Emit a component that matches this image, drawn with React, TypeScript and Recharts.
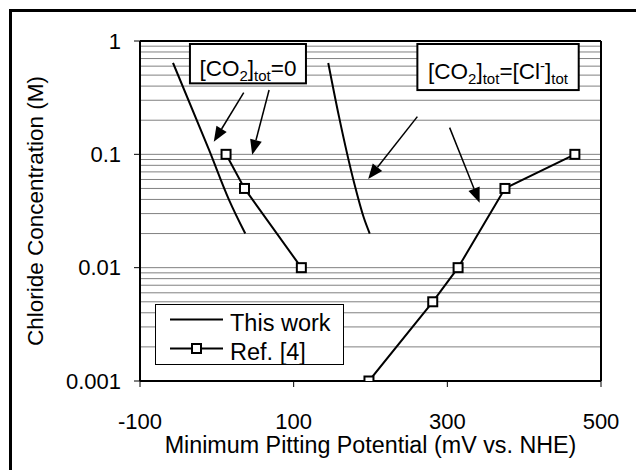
import React from 'react';
import { LineChart, Line, XAxis, YAxis, Legend, ReferenceLine } from 'recharts';

const FONT = '"Liberation Sans", Arial, sans-serif';

// axis ticks
const potentialTicks = [-100, 100, 300, 500];
const concTicks = [0.001, 0.01, 0.1, 1];
// horizontal log grid (minor + major)
const gridConc = [
  0.002, 0.003, 0.004, 0.005, 0.006, 0.007, 0.008, 0.009, 0.01,
  0.02, 0.03, 0.04, 0.05, 0.06, 0.07, 0.08, 0.09, 0.1,
  0.2, 0.3, 0.4, 0.5, 0.6, 0.7, 0.8, 0.9,
];

// This work: [CO2]tot = 0 curve
const thisWorkCO2Zero = [
  { x: -57, y: 0.64 },
  { x: -10, y: 0.109 },
  { x: 16, y: 0.0395 },
  { x: 37, y: 0.02 },
];
// This work: [CO2]tot = [Cl-]tot curve
const thisWorkCO2Cl = [
  { x: 145, y: 0.64 },
  { x: 159, y: 0.215 },
  { x: 179, y: 0.055 },
  { x: 191, y: 0.028 },
  { x: 199, y: 0.02 },
];
// Ref. [4] points
const refCO2Zero = [
  { x: 12, y: 0.1 },
  { x: 36, y: 0.05 },
  { x: 110, y: 0.01 },
];
const refCO2Cl = [
  { x: 198, y: 0.001 },
  { x: 281, y: 0.005 },
  { x: 314, y: 0.01 },
  { x: 375, y: 0.05 },
  { x: 466, y: 0.1 },
];

// annotation arrows: tail -> tip, in data units
const arrowTails = [
  { x: 35, y: 0.35 },
  { x: 68, y: 0.37 },
  { x: 261, y: 0.215 },
  { x: 303, y: 0.172 },
];
const arrowTips = [
  { x: -4, y: 0.129 },
  { x: 46, y: 0.099 },
  { x: 197, y: 0.0605 },
  { x: 342, y: 0.0374 },
];

// annotation boxes: corners in data units
const co2ZeroBox = [{ x: -35, y: 0.941 }, { x: 116, y: 0.423 }];
const co2ClBox = [{ x: 261, y: 0.941 }, { x: 471, y: 0.369 }];

const Arrow = (p: any) => {
  const { x1, y1, x2, y2 } = p;
  const dx = x2 - x1;
  const dy = y2 - y1;
  const len = Math.sqrt(dx * dx + dy * dy) || 1;
  const ux = dx / len;
  const uy = dy / len;
  const hl = 15;
  const hw = 6;
  const bx = x2 - ux * hl;
  const by = y2 - uy * hl;
  return (
    <g>
      <line x1={x1} y1={y1} x2={bx} y2={by} stroke="#000" strokeWidth={1.5} />
      <polygon
        points={`${x2},${y2} ${bx - uy * hw},${by + ux * hw} ${bx + uy * hw},${by - ux * hw}`}
        fill="#000"
      />
    </g>
  );
};

const Square = (p: any) => {
  const { cx, cy, index } = p;
  if (cx == null || cy == null) return <g key={index} />;
  return <rect key={index} x={cx - 4.5} y={cy - 4.5} width={9} height={9} fill="#fff" stroke="#000" strokeWidth={2} />;
};

const boxShape = (content: React.ReactNode) => (p: any) => {
  const { x1, y1, x2, y2 } = p;
  const x = Math.min(x1, x2);
  const y = Math.min(y1, y2);
  const w = Math.abs(x2 - x1);
  const h = Math.abs(y2 - y1);
  return (
    <g>
      <rect x={x} y={y} width={w} height={h} fill="#fff" stroke="#000" strokeWidth={2} />
      <text x={x + w / 2} y={y + h / 2 + 12} textAnchor="middle" fontSize={22.5} fontFamily={FONT} fill="#000">
        {content}
      </text>
    </g>
  );
};

const co2ZeroShape = boxShape(
  <>
    <tspan>[CO</tspan>
    <tspan dy={5} fontSize={15}>2</tspan>
    <tspan dy={-5}>]</tspan>
    <tspan dy={5} fontSize={15}>tot</tspan>
    <tspan dy={-5}>=0</tspan>
  </>
);

const co2ClShape = boxShape(
  <>
    <tspan>[CO</tspan>
    <tspan dy={5} fontSize={15}>2</tspan>
    <tspan dy={-5}>]</tspan>
    <tspan dy={5} fontSize={15}>tot</tspan>
    <tspan dy={-5}>=[Cl</tspan>
    <tspan dy={-8} fontSize={15}>-</tspan>
    <tspan dy={8}>]</tspan>
    <tspan dy={5} fontSize={15}>tot</tspan>
  </>
);

const LegendBox = () => (
  <svg width={189} height={61} style={{ display: 'block' }}>
    <rect x={0.5} y={0.5} width={188} height={60} fill="#fff" stroke="#000" strokeWidth={1} />
    <line x1={15} y1={15.5} x2={68} y2={15.5} stroke="#000" strokeWidth={2} />
    <text x={75} y={27} fontSize={23.5} fontFamily={FONT} fill="#000">This work</text>
    <line x1={15} y1={44.5} x2={68} y2={44.5} stroke="#000" strokeWidth={2} />
    <rect x={37} y={40} width={9} height={9} fill="#fff" stroke="#000" strokeWidth={2} />
    <text x={75} y={56} fontSize={23.5} fontFamily={FONT} fill="#000">Ref. [4]</text>
  </svg>
);

export default function App() {
  return (
    <div style={{ position: 'absolute', left: 0, top: 0, width: 636, height: 470, overflow: 'hidden', background: '#fff' }}>
      <div style={{ position: 'absolute', left: 9, top: 9, width: 700, height: 600, border: '3px solid #000' }} />
      <div style={{ position: 'absolute', left: 0, top: 0 }}>
        <LineChart width={636} height={470} margin={{ top: 41, right: 35, bottom: 0, left: 0 }}>
          {gridConc.map((v) => (
            <ReferenceLine key={'g' + v} y={v} stroke="#808080" strokeWidth={1} />
          ))}
          <XAxis
            type="number"
            dataKey="x"
            domain={[-100, 500]}
            ticks={potentialTicks}
            allowDataOverflow
            height={89}
            stroke="#000"
            axisLine={{ stroke: '#000', strokeWidth: 2 }}
            tickLine={{ stroke: '#000', strokeWidth: 1 }}
            tickSize={6}
            tickMargin={26}
            tick={{ fill: '#000', fontSize: 22, fontFamily: FONT }}
            label={{ value: 'Minimum Pitting Potential (mV vs. NHE)', position: 'insideBottom', offset: 17, fill: '#000', fontSize: 23.3, fontFamily: FONT }}
          />
          <YAxis
            type="number"
            dataKey="y"
            scale="log"
            domain={[0.001, 1]}
            ticks={concTicks}
            allowDataOverflow
            width={140}
            tickFormatter={(v: number) => String(v)}
            axisLine={{ stroke: '#000', strokeWidth: 2 }}
            tickLine={{ stroke: '#000', strokeWidth: 1 }}
            tickSize={6}
            tickMargin={13}
            tick={{ fill: '#000', fontSize: 22, fontFamily: FONT }}
            label={{ value: 'Chloride Concentration (M)', angle: -90, position: 'insideLeft', offset: 35, fill: '#000', fontSize: 22.5, fontFamily: FONT, style: { textAnchor: 'middle' } }}
          />
          <ReferenceLine y={1} stroke="#000" strokeWidth={2} />
          <ReferenceLine x={500} stroke="#000" strokeWidth={2} />
          <ReferenceLine segment={co2ZeroBox} shape={co2ZeroShape} ifOverflow="visible" />
          <ReferenceLine segment={co2ClBox} shape={co2ClShape} ifOverflow="visible" />
          {arrowTails.map((t, i) => (
            <ReferenceLine key={'arrow' + i} segment={[t, arrowTips[i]]} shape={Arrow} ifOverflow="visible" />
          ))}
          <Line data={thisWorkCO2Zero} dataKey="y" type="monotone" stroke="#000" strokeWidth={2} dot={false} isAnimationActive={false} name="This work" />
          <Line data={thisWorkCO2Cl} dataKey="y" type="monotone" stroke="#000" strokeWidth={2} dot={false} isAnimationActive={false} legendType="none" />
          <Line data={refCO2Zero} dataKey="y" type="linear" stroke="#000" strokeWidth={2} dot={Square} isAnimationActive={false} name="Ref. [4]" />
          <Line data={refCO2Cl} dataKey="y" type="linear" stroke="#000" strokeWidth={2} dot={Square} isAnimationActive={false} legendType="none" />
          <Legend
            layout="horizontal"
            verticalAlign="middle"
            align="center"
            content={LegendBox}
            wrapperStyle={{ left: 155, top: 304, width: 189, height: 61 }}
          />
        </LineChart>
      </div>
    </div>
  );
}
